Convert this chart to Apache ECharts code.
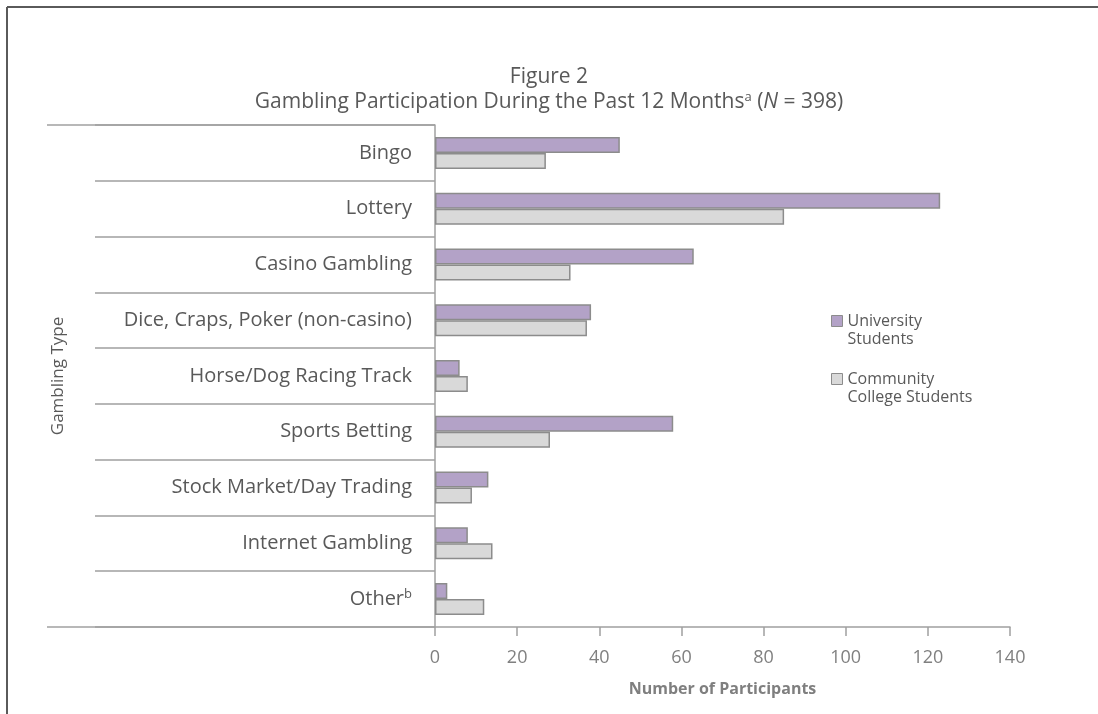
<!DOCTYPE html>
<html>
<head>
<meta charset="utf-8">
<title>Gambling Participation</title>
<script src="https://cdn.jsdelivr.net/npm/echarts@6/dist/echarts.min.js"></script>
<style>
  html, body { margin: 0; padding: 0; background: #fff; }
  #chart { width: 1098px; height: 714px; }
</style>
</head>
<body>
<div id="chart"></div>
<script>
// gambling types, top to bottom
const categories = [
  'Bingo',
  'Lottery',
  'Casino Gambling',
  'Dice, Craps, Poker (non-casino)',
  'Horse/Dog Racing Track',
  'Sports Betting',
  'Stock Market/Day Trading',
  'Internet Gambling',
  'Other'
]
const universityStudents = [45, 123, 63, 38, 6, 58, 13, 8, 3]
const communityCollegeStudents = [27, 85, 33, 37, 8, 28, 9, 14, 12]
const xTicks = [0, 20, 40, 60, 80, 100, 120, 140]

const gray = '#595959'
const lineGray = '#a0a0a0'
const font = '"Open Sans", "Noto Sans", sans-serif'

const chart = echarts.init(document.getElementById('chart'))

chart.setOption({
  backgroundColor: '#fff',
  textStyle: { fontFamily: font },
  title: [{
    text: 'Figure 2',
    left: 'center',
    top: 62,
    textStyle: { fontSize: 21, fontWeight: 'normal', color: gray, fontFamily: font }
  }, {
    text: '{t|Gambling Participation During the Past 12 Months}{s|a}{t| (}{i|N}{t| = 398)}',
    left: 'center',
    top: 86,
    textStyle: {
      fontWeight: 'normal',
      rich: {
        t: { fontSize: 21, fontWeight: 'normal', color: gray, fontFamily: font },
        s: { fontSize: 13, fontWeight: 'normal', color: gray, fontFamily: font, verticalAlign: 'top', padding: [0, 0, 9, 0] },
        i: { fontSize: 21, fontWeight: 'normal', color: gray, fontFamily: font, fontStyle: 'italic' }
      }
    }
  }],
  legend: {
    orient: 'vertical',
    left: 826,
    top: 289,
    icon: 'rect',
    itemWidth: 11,
    itemHeight: 11,
    itemGap: 4,
    selectedMode: false,
    // blank first line so the box sits next to the first text line
    formatter: name => '\n' + name,
    textStyle: { fontSize: 16, color: gray, lineHeight: 18 },
    data: [
      { name: 'University\nStudents', itemStyle: { borderColor: '#8c8c8c', borderWidth: 1 } },
      { name: 'Community\nCollege Students', itemStyle: { borderColor: '#8c8c8c', borderWidth: 1 } }
    ]
  },
  grid: { left: 435, top: 125, width: 575, height: 502 },
  xAxis: {
    type: 'value',
    min: 0,
    max: 140,
    interval: 20,
    name: 'Number of Participants',
    nameLocation: 'middle',
    nameGap: 54,
    nameTextStyle: { fontSize: 16, fontWeight: 'bold', color: '#7f7f7f' },
    axisLine: { show: true, lineStyle: { color: lineGray, width: 1.5 } },
    axisTick: { show: true, length: 9, lineStyle: { color: lineGray, width: 1.5 } },
    axisLabel: {
      margin: 22,
      fontSize: 18,
      color: '#808080',
      formatter: v => xTicks.includes(v) ? String(v) : ''
    },
    splitLine: { show: false }
  },
  yAxis: {
    type: 'category',
    inverse: true,
    data: categories,
    name: 'Gambling Type',
    nameLocation: 'middle',
    nameGap: 368,
    nameTextStyle: { fontSize: 17, color: gray },
    axisLine: { show: true, lineStyle: { color: lineGray, width: 1.5 } },
    axisTick: { show: true, length: 340, lineStyle: { color: lineGray, width: 1.5 } },
    axisLabel: {
      margin: 23,
      color: gray,
      formatter: v => v === 'Other' ? '{n|Other}{s|b}' : '{n|' + v + '}',
      rich: {
        n: { fontSize: 20, color: gray, fontFamily: font },
        s: { fontSize: 13, color: gray, fontFamily: font, verticalAlign: 'top', padding: [0, 0, 9, 0] }
      }
    }
  },
  graphic: [
    // outer frame (top and left edges)
    { type: 'line', shape: { x1: 7, y1: 7, x2: 1098, y2: 7 }, style: { stroke: '#5a5a5a', lineWidth: 2 } },
    { type: 'line', shape: { x1: 7, y1: 7, x2: 7, y2: 714 }, style: { stroke: '#5a5a5a', lineWidth: 2 } },
    // table edges left of the axis
    { type: 'line', shape: { x1: 47, y1: 125, x2: 435, y2: 125 }, style: { stroke: lineGray, lineWidth: 1.5 } },
    { type: 'line', shape: { x1: 47, y1: 627, x2: 435, y2: 627 }, style: { stroke: lineGray, lineWidth: 1.5 } }
  ],
  series: [{
    name: 'University\nStudents',
    type: 'bar',
    data: universityStudents,
    barWidth: 16,
    barGap: '0%',
    itemStyle: { color: '#b3a2c7', borderColor: '#8c8c8c', borderWidth: 1.5 }
  }, {
    name: 'Community\nCollege Students',
    type: 'bar',
    data: communityCollegeStudents,
    barWidth: 16,
    barGap: '0%',
    itemStyle: { color: '#d9d9d9', borderColor: '#8c8c8c', borderWidth: 1.5 }
  }]
})
</script>
</body>
</html>
